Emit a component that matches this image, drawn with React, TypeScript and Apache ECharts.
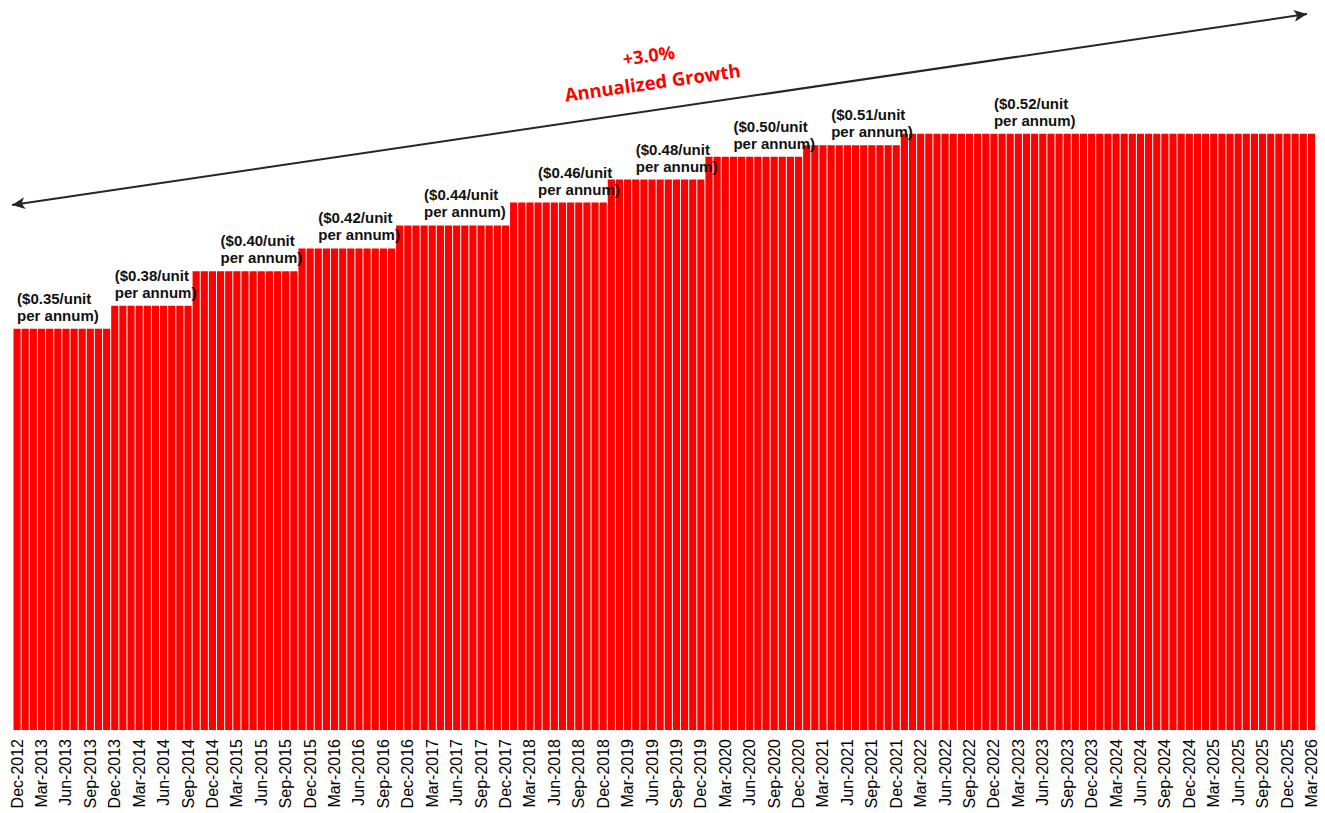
import React, { useEffect, useRef } from "react";
import * as echarts from "echarts";

// ---- Data ----
const monthNames = ["Jan", "Feb", "Mar", "Apr", "May", "Jun", "Jul", "Aug", "Sep", "Oct", "Nov", "Dec"];
const firstYear = 2012;
const firstMonthIndex = 11; // Dec
const monthCount = 160; // Dec-2012 .. Mar-2026

const categories: string[] = [];
for (let i = 0; i < monthCount; i++) {
  const m = firstMonthIndex + i;
  categories.push(`${monthNames[m % 12]}-${firstYear + Math.floor(m / 12)}`);
}

// step function: month where each rate starts, and the bar height
const stepStart = ["Dec-2012", "Dec-2013", "Oct-2014", "Nov-2015", "Nov-2016", "Jan-2018", "Jan-2019", "Jan-2020", "Jan-2021", "Jan-2022"];
const stepValues = [0.35, 0.37, 0.40, 0.42, 0.44, 0.46, 0.48, 0.50, 0.51, 0.52];
const stepLabels = [
  "($0.35/unit\nper annum)",
  "($0.38/unit\nper annum)",
  "($0.40/unit\nper annum)",
  "($0.42/unit\nper annum)",
  "($0.44/unit\nper annum)",
  "($0.46/unit\nper annum)",
  "($0.48/unit\nper annum)",
  "($0.50/unit\nper annum)",
  "($0.51/unit\nper annum)",
  "($0.52/unit\nper annum)",
];
const stepLabelAt = ["Dec-2012", "Dec-2013", "Jan-2015", "Jan-2016", "Feb-2017", "Apr-2018", "Apr-2019", "Apr-2020", "Apr-2021", "Dec-2022"];

const growthTitle = "+3.0%";
const growthSubtitle = "Annualized Growth";

export default function App() {
  const ref = useRef<HTMLDivElement>(null);

  useEffect(() => {
    if (!ref.current) return;
    const chart = echarts.init(ref.current, undefined, { renderer: "svg" });

    const startIdx = stepStart.map((s) => categories.indexOf(s));
    const labelIdx = stepLabelAt.map((s) => categories.indexOf(s));

    const data = categories.map((_, i) => {
      let k = 0;
      for (let j = 0; j < startIdx.length; j++) if (startIdx[j] <= i) k = j;
      const value = stepValues[k];
      const li = labelIdx.indexOf(i);
      if (li >= 0) {
        return {
          value,
          label: {
            show: true,
            position: "top",
            distance: 5,
            align: "left",
            verticalAlign: "bottom",
            formatter: stepLabels[li],
            fontFamily: "'Liberation Sans', Arial, sans-serif",
            fontWeight: "bold",
            fontSize: 15,
            lineHeight: 17,
            color: "#111",
          },
        };
      }
      return value;
    });

    chart.setOption({
      animation: false,
      grid: { left: 13, right: 9.5, top: 42, bottom: 83, containLabel: false },
      xAxis: {
        type: "category",
        data: categories,
        axisLine: { show: false },
        axisTick: { show: false },
        axisLabel: {
          interval: 2,
          rotate: 90,
          margin: 9,
          fontSize: 16,
          color: "#000",
          fontFamily: "'Liberation Sans', Arial, sans-serif",
        },
      },
      yAxis: {
        type: "value",
        min: 0,
        max: 0.6,
        show: false,
        splitLine: { show: false },
      },
      series: [
        {
          type: "bar",
          data,
          barCategoryGap: "12%",
          itemStyle: { color: "#ff0000" },
          markLine: {
            silent: true,
            symbol: ["arrow", "arrow"],
            symbolSize: [9, 13],
            label: { show: false },
            lineStyle: { color: "#262626", width: 2, type: "solid" },
            data: [[{ x: 12, y: 205 }, { x: 1307, y: 14 }]],
          },
        },
      ],
      graphic: [
        {
          type: "group",
          x: 650.5,
          y: 68.5,
          rotation: 0.14,
          children: [
            {
              type: "text",
              x: 0,
              y: -13.5,
              style: {
                text: growthTitle,
                fill: "#ff0000",
                fontSize: 18,
                fontWeight: "bold",
                fontFamily: "'Open Sans', sans-serif",
                align: "center",
                verticalAlign: "middle",
              },
            },
            {
              type: "text",
              x: 0,
              y: 13.5,
              style: {
                text: growthSubtitle,
                fill: "#ff0000",
                fontSize: 18.5,
                fontWeight: "bold",
                fontFamily: "'Open Sans', sans-serif",
                align: "center",
                verticalAlign: "middle",
              },
            },
          ],
        },
      ],
    });

    return () => chart.dispose();
  }, []);

  return (
    <div
      ref={ref}
      style={{ position: "fixed", left: 0, top: 0, width: 1325, height: 813, background: "#fff" }}
    />
  );
}
